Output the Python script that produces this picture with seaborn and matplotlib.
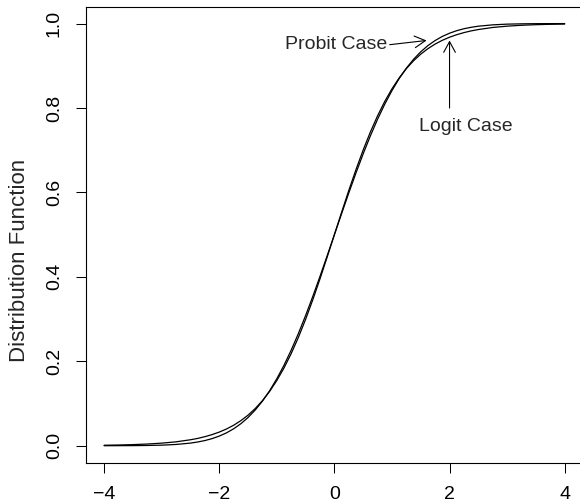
import numpy as np
import pandas as pd
import matplotlib
matplotlib.use("Agg")
import matplotlib.pyplot as plt
import seaborn as sns

# valores
x_vals = [-4.0, -3.75, -3.5, -3.25, -3.0, -2.75,
          -2.5, -2.375, -2.25, -2.125, -2.0, -1.875, -1.75, -1.625, -1.5, -1.375,
          -1.25, -1.125, -1.0, -0.875, -0.75, -0.625, -0.5, -0.375, -0.25, -0.125,
          0.0,
          0.125, 0.25, 0.375, 0.5, 0.625, 0.75, 0.875, 1.0, 1.125, 1.25,
          1.375, 1.5, 1.625, 1.75, 1.875, 2.0, 2.125, 2.25, 2.375, 2.5,
          2.75, 3.0, 3.25, 3.5, 3.75, 4.0]

probit = [0.0000, 0.0001, 0.0002, 0.0006, 0.0013, 0.0030,
          0.0062, 0.0088, 0.0122, 0.0168, 0.0228, 0.0304, 0.0401, 0.0521, 0.0668, 0.0846,
          0.1056, 0.1303, 0.1587, 0.1908, 0.2266, 0.2660, 0.3085, 0.3538, 0.4013, 0.4503,
          0.5000,
          0.5497, 0.5987, 0.6462, 0.6915, 0.7340, 0.7734, 0.8092, 0.8413, 0.8697, 0.8944,
          0.9154, 0.9332, 0.9479, 0.9599, 0.9696, 0.9772, 0.9832, 0.9878, 0.9912, 0.9938,
          0.9970, 0.9987, 0.9994, 0.9998, 0.9999, 1.0000]

logit = [0.0011, 0.0017, 0.0026, 0.0040, 0.0061, 0.0092,
         0.0141, 0.0173, 0.0214, 0.0263, 0.0323, 0.0396, 0.0485, 0.0594, 0.0724, 0.0881,
         0.1067, 0.1287, 0.1545, 0.1843, 0.2184, 0.2568, 0.2994, 0.3458, 0.3953, 0.4471,
         0.5000,
         0.5529, 0.6047, 0.6542, 0.7006, 0.7432, 0.7816, 0.8157, 0.8455, 0.8713, 0.8933,
         0.9119, 0.9276, 0.9406, 0.9515, 0.9604, 0.9677, 0.9737, 0.9786, 0.9827, 0.9859,
         0.9908, 0.9939, 0.9960, 0.9974, 0.9983, 0.9989]

x_ticks = [-4, -2, 0, 2, 4]
y_ticks = [0.0, 0.2, 0.4, 0.6, 0.8, 1.0]

df = pd.DataFrame({"x": x_vals, "probit": probit, "logit": logit})

sns.set_theme(style="white")
plt.rcParams["font.family"] = ["Liberation Sans", "DejaVu Sans"]

W, H = 580, 503
fig = plt.figure(figsize=(W / 100, H / 100), dpi=100)
# a caixa do R passa um pouco da borda direita
ax = fig.add_axes([85.7 / W, 1 - 462.6 / H, (583.1 - 85.7) / W, (462.6 - 6.7) / H])

sns.lineplot(data=df, x="x", y="probit", ax=ax, color="black", lw=0.9, estimator=None)
sns.lineplot(data=df, x="x", y="logit", ax=ax, color="black", lw=0.9, estimator=None)

ax.set_xlim(-4.32, 4.32)
ax.set_ylim(-0.04, 1.04)
ax.set_xticks(x_ticks)
ax.set_xticklabels([f"{t}".replace("-", "\u2212") for t in x_ticks])
ax.set_yticks(y_ticks)
ax.set_yticklabels([f"{t:.1f}" for t in y_ticks], rotation=90, va="center")
ax.set_xlabel("")
ax.set_ylabel("")

for s in ax.spines.values():
    s.set_color("black")
    s.set_linewidth(0.8)

ax.tick_params(axis="both", direction="out", length=7.5, width=0.75,
               color="black", labelsize=14, labelcolor="black",
               bottom=True, left=True)
ax.tick_params(axis="x", pad=9)
ax.tick_params(axis="y", pad=9)

fig.text(20 / W, 1 - 260 / H, "Distribution Function", rotation=90,
         ha="center", va="center", fontsize=16)

seta = dict(arrowstyle="->,head_length=0.55,head_width=0.3", color="black",
            lw=0.8, shrinkA=0, shrinkB=0, mutation_scale=14)
ax.annotate("", xy=(1.60, 0.960), xytext=(0.96, 0.950), arrowprops=seta)
ax.text(0.92, 0.950, "Probit Case", ha="right", va="center", fontsize=14)
ax.annotate("", xy=(2.0, 0.960), xytext=(2.0, 0.80), arrowprops=seta)
ax.text(2.29, 0.756, "Logit Case", ha="center", va="center", fontsize=14)

fig.savefig("out.png", dpi=100)
